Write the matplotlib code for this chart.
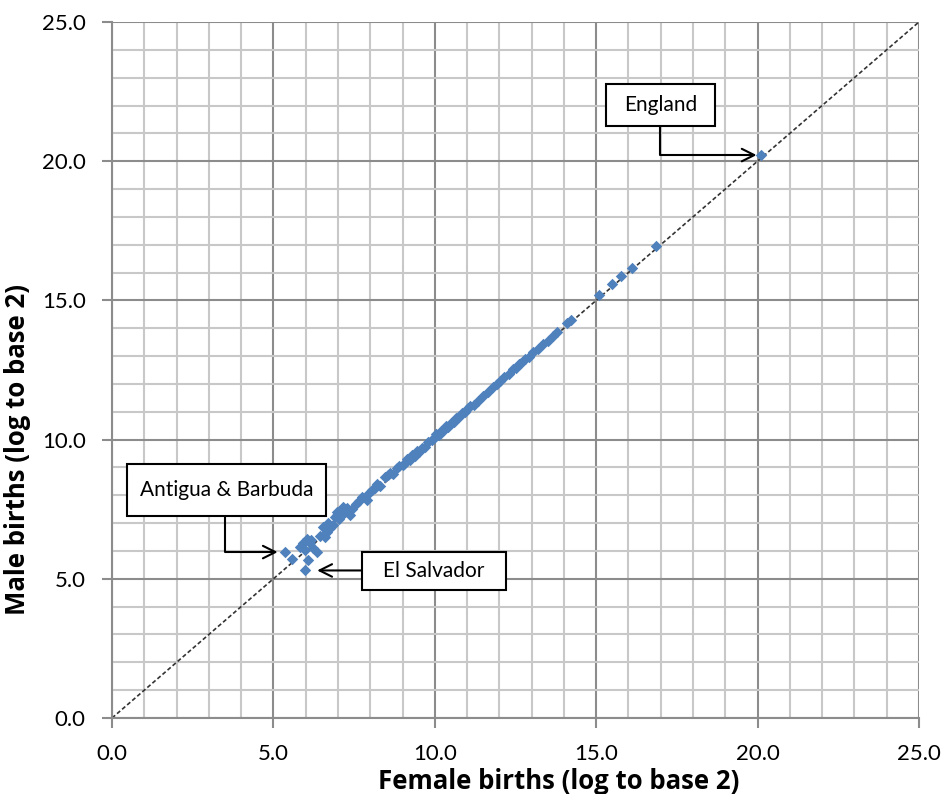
import matplotlib
matplotlib.use("Agg")
import matplotlib.pyplot as plt
from matplotlib.patches import Rectangle
from matplotlib.ticker import MultipleLocator, FormatStrFormatter

plt.rcParams['font.family'] = ['Lato', 'DejaVu Sans']

# log2 of births by sex, one entry per country
female = [5.35, 5.57, 5.82, 5.91, 5.97, 6.03, 6.06, 6.13, 5.97, 6.22,
          6.34, 6.18, 6.45, 6.55, 6.59, 6.65, 6.70, 6.75, 6.84, 6.90,
          6.96, 7.02, 6.98, 7.05, 7.15, 7.20, 7.28, 7.36, 7.45, 7.55,
          7.65, 7.73, 7.89, 7.95, 8.04, 8.14, 8.20, 8.30, 8.45, 8.54,
          8.62, 8.70, 8.82, 8.90, 9.00,
          9.05, 9.15, 9.22, 9.30, 9.38, 9.45, 9.52, 9.60, 9.70, 9.80,
          9.90, 9.98, 10.05, 10.12, 10.20, 10.28, 10.35, 10.42, 10.50, 10.58,
          10.65, 10.75, 10.85, 10.95, 11.02, 11.10, 11.20, 11.35, 11.50, 11.65,
          11.80, 11.92, 12.02, 12.15, 12.30, 12.42, 12.52, 12.60, 12.68, 12.80,
          12.92, 13.05, 13.20, 13.35, 13.50, 13.65, 13.80, 14.10, 14.23,
          15.10, 15.50, 15.78, 16.12, 16.86, 20.10]
male = [5.96, 5.71, 6.14, 6.29, 6.03, 6.43, 5.68, 6.29, 5.32, 6.11,
        5.96, 6.40, 6.55, 6.85, 6.50, 6.68, 7.00, 6.82, 6.93, 7.22,
        7.29, 7.15, 7.40, 7.45, 7.58, 7.35, 7.55, 7.29, 7.50, 7.70,
        7.80, 7.94, 7.84, 8.10, 8.19, 8.26, 8.40, 8.35, 8.66, 8.73,
        8.80, 8.75, 8.98, 9.05, 9.10,
        9.12, 9.30, 9.28, 9.45, 9.42, 9.60, 9.55, 9.70, 9.72, 9.90,
        10.00, 10.05, 10.20, 10.15, 10.30, 10.35, 10.48, 10.45, 10.60, 10.62,
        10.78, 10.80, 10.95, 11.00, 11.15, 11.20, 11.25, 11.40, 11.58, 11.72,
        11.88, 12.00, 12.10, 12.25, 12.36, 12.55, 12.58, 12.70, 12.75, 12.90,
        12.98, 13.15, 13.25, 13.45, 13.55, 13.72, 13.88, 14.18, 14.30,
        15.19, 15.59, 15.88, 16.16, 16.95, 20.22]

# labelled countries: name, female, male
callouts = [
    ("England", 20.10, 20.22),
    ("Antigua & Barbuda", 5.35, 5.96),
    ("El Salvador", 5.97, 5.32),
]

fig = plt.figure(figsize=(9.46, 7.94), dpi=100)
ax = fig.add_axes([0.1184, 0.0957, 0.853, 0.8766])

ax.set_xlim(0, 25)
ax.set_ylim(0, 25)
ax.xaxis.set_major_locator(MultipleLocator(5))
ax.yaxis.set_major_locator(MultipleLocator(5))
ax.xaxis.set_minor_locator(MultipleLocator(1))
ax.yaxis.set_minor_locator(MultipleLocator(1))
ax.xaxis.set_major_formatter(FormatStrFormatter('%.1f'))
ax.yaxis.set_major_formatter(FormatStrFormatter('%.1f'))

ax.grid(which='minor', color='#c8c8c8', lw=1.5, zorder=0)
ax.grid(which='major', color='#8c8c8c', lw=1.5, zorder=0)
ax.set_axisbelow(True)
ax.tick_params(which='minor', length=0)
ax.tick_params(which='major', length=7, width=1.5, color='#8c8c8c',
               labelsize=16, pad=12)
for s in ('top', 'right'):
    ax.spines[s].set_visible(False)
for s in ('left', 'bottom'):
    ax.spines[s].set_color('#8c8c8c')
    ax.spines[s].set_linewidth(1.5)

ax.plot([0, 25], [0, 25], ls=(0, (2.5, 1.5)), color='#333333', lw=1.2, zorder=2)
ax.scatter(female, male, marker='D', s=34, color='#4f81bd', lw=0, zorder=3)

lab_font = dict(fontsize=18.5, fontweight='bold', family=['Open Sans', 'DejaVu Sans'])
ax.set_xlabel('Female births (log to base 2)', **lab_font)
ax.set_ylabel('Male births (log to base 2)', **lab_font)
ax.xaxis.label.set_va('center')
ax.yaxis.label.set_va('center')
ax.yaxis.label.set_ha('center')
ax.xaxis.set_label_coords(0.554, -0.0905)
ax.yaxis.set_label_coords(-0.1165, 0.386)

# label boxes: (x0, y0, w, h) in data units
boxes = [(15.32, 21.26, 3.37, 1.51),
         (0.46, 7.26, 6.16, 1.86),
         (7.74, 4.60, 4.48, 1.36)]
arrow_kw = dict(arrowstyle='->,head_length=0.9,head_width=0.45', color='black', lw=1.5)
for (name, fx, my), (x0, y0, w, h) in zip(callouts, boxes):
    ax.add_patch(Rectangle((x0, y0), w, h, facecolor='white', edgecolor='black',
                           lw=1.5, zorder=5))
    ax.text(x0 + w / 2, y0 + h / 2, name, ha='center', va='center',
            fontsize=15, zorder=6)

# England: down from the box, then across to the point
ax.annotate('', xy=(20.10, 20.22), xytext=(16.99, 21.26),
            arrowprops=dict(connectionstyle='angle,angleA=90,angleB=0,rad=0',
                            shrinkA=0, shrinkB=3, **arrow_kw), zorder=6)
# Antigua & Barbuda
ax.annotate('', xy=(5.35, 5.96), xytext=(3.50, 7.26),
            arrowprops=dict(connectionstyle='angle,angleA=90,angleB=0,rad=0',
                            shrinkA=0, shrinkB=5, **arrow_kw), zorder=6)
# El Salvador
ax.annotate('', xy=(5.97, 5.30), xytext=(7.74, 5.30),
            arrowprops=dict(shrinkA=0, shrinkB=9, **arrow_kw), zorder=6)

fig.savefig('out.png', dpi=100)
